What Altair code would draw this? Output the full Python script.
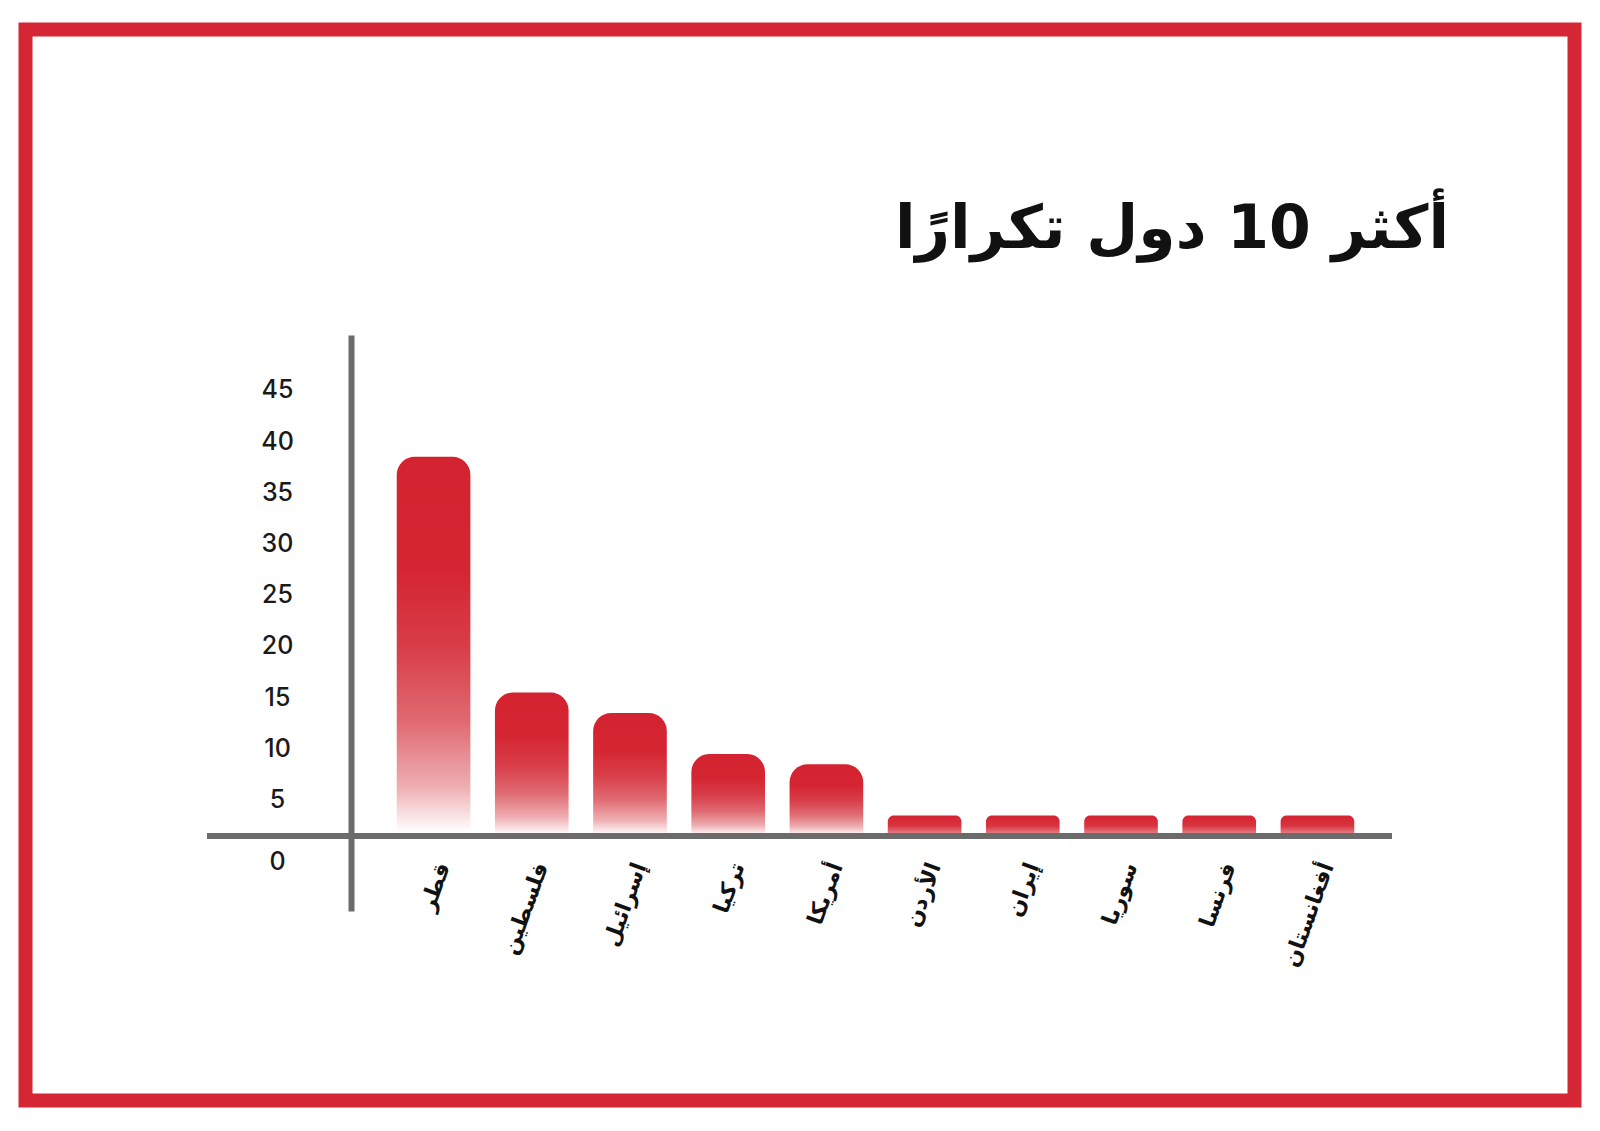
import altair as alt
import pandas as pd

# ---- data ----
countries = ["قطر", "فلسطين", "إسرائيل", "تركيا", "أمريكا",
             "الأردن", "إيران", "سوريا", "فرنسا", "أفغانستان"]
counts = [37, 14, 12, 8, 7, 2, 2, 2, 2, 2]
y_ticks = [0, 5, 10, 15, 20, 25, 30, 35, 40, 45]
title_text = "أكثر 10 دول تكرارًا"

df = pd.DataFrame({"country": countries, "count": counts})
tdf = pd.DataFrame({"t": [title_text]})

W, H = 1041, 576
RED = "#d42330"
GRAY = "#6b6b6b"
AR_FONT = "DejaVu Sans"

x_enc = alt.X(
    "country:N", sort=countries,
    scale=alt.Scale(paddingInner=0.25, paddingOuter=0.425, range=[4, W + 4]),
    axis=alt.Axis(
        title=None, orient="bottom", offset=-75, domain=False, ticks=False,
        labelAngle=-70, labelAlign="right", labelBaseline="middle",
        labelPadding=27, labelOffset=10, labelFont=AR_FONT, labelFontSize=22,
        labelFontWeight="bold",
        labelColor="#111111", labelLimit=0, labelOverlap=False, labelBound=False,
    ),
)
y_enc = alt.Y(
    "count:Q",
    scale=alt.Scale(domain=[-7.32, 48.88], nice=False, zero=False),
    axis=alt.Axis(
        title=None, values=y_ticks, ticks=False, grid=False,
        domainColor=GRAY, domainWidth=6,
        labelAlign="center", labelBaseline="middle", labelPadding=74,
        labelOffset={"condition": {"test": "datum.value == 0", "value": 26}, "value": 15},
        labelFont="Inter", labelFontSize=25, labelFontWeight=500, labelColor="#1a1a1a",
    ),
)

big_grad = alt.LinearGradient(
    gradient="linear", x1=0, x2=0, y1=0, y2=1,
    stops=[alt.GradientStop(color=RED, offset=0),
           alt.GradientStop(color="#d42632", offset=0.3),
           alt.GradientStop(color="#d83d48", offset=0.5),
           alt.GradientStop(color="#e06a72", offset=0.7),
           alt.GradientStop(color="#eeaeb2", offset=0.87),
           alt.GradientStop(color="#ffffff", offset=0.99)],
)
small_grad = alt.LinearGradient(
    gradient="linear", x1=0, x2=0, y1=0, y2=1,
    stops=[alt.GradientStop(color=RED, offset=0),
           alt.GradientStop(color="#d8343f", offset=0.5),
           alt.GradientStop(color="#ea959b", offset=1)],
)

base = alt.Chart(df)

bars_big = base.transform_filter("datum.count > 5").mark_bar(
    color=big_grad, cornerRadiusTopLeft=18, cornerRadiusTopRight=18
).encode(x=x_enc, y=y_enc, y2=alt.datum(0))

bars_small = base.transform_filter("datum.count <= 5").mark_bar(
    color=small_grad, cornerRadiusTopLeft=6, cornerRadiusTopRight=6
).encode(x=alt.X("country:N", sort=countries), y="count:Q", y2=alt.datum(0))

hline = alt.Chart(tdf).mark_rule(color=GRAY, strokeWidth=6).encode(
    x=alt.value(-144), x2=alt.value(W), y=alt.datum(0)
)

title = alt.Chart(tdf).mark_text(
    align="right", baseline="alphabetic", font=AR_FONT, fontSize=60,
    fontWeight="bold", color="#111111"
).encode(text="t:N", x=alt.value(1098), y=alt.value(-87))

border = alt.Chart(tdf).mark_rect(
    fillOpacity=0, stroke="#d42634", strokeWidth=14
).encode(
    x=alt.value(-325.5), x2=alt.value(1223.5),
    y=alt.value(-305.5), y2=alt.value(765.5)
)

chart = alt.layer(border, bars_big, bars_small, hline, title).properties(
    width=W, height=H,
    autosize="none",
    padding={"left": 343, "top": 327, "right": 200, "bottom": 207},
    background="white",
).configure_view(stroke=None)

chart.save("out.html", embed_options={"renderer": "svg", "actions": False})
